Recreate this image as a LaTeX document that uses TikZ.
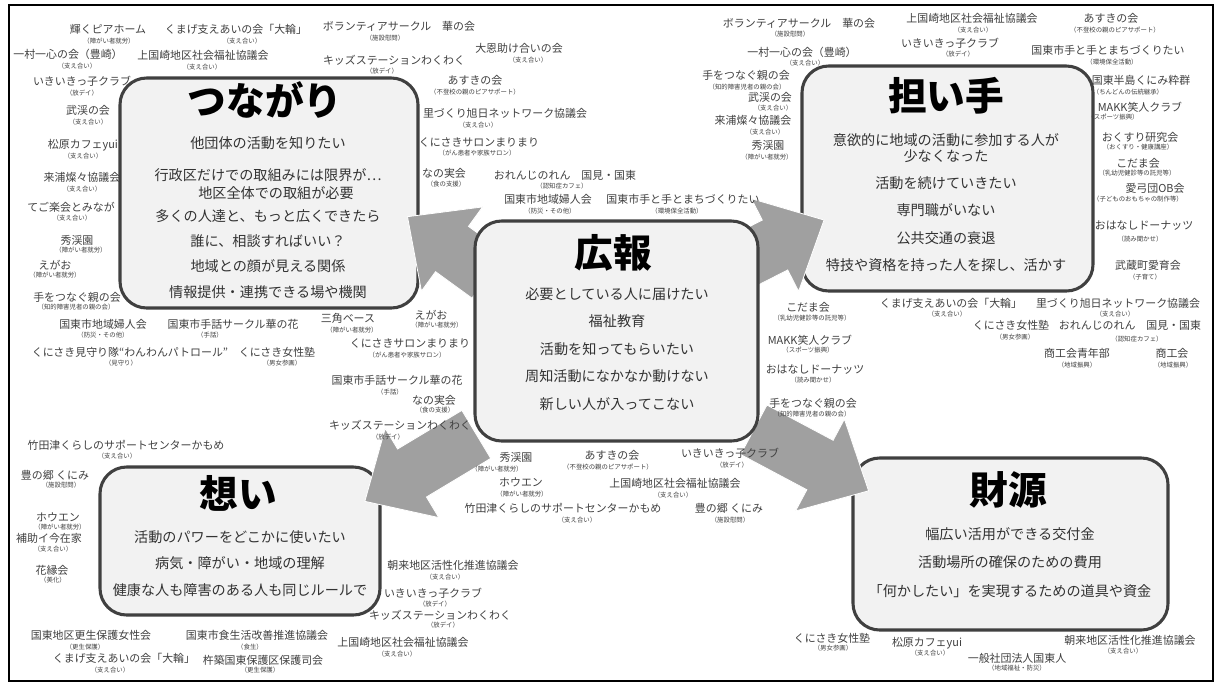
\documentclass[tikz,border=0pt]{standalone}
\usepackage{fontspec}
\setmainfont{Noto Sans CJK JP}
\usetikzlibrary{calc}
\definecolor{boxfill}{HTML}{F2F2F2}
\definecolor{boxline}{HTML}{404040}
\definecolor{arrowfill}{HTML}{A0A0A0}
\definecolor{labcol}{HTML}{404040}
\definecolor{txtcol}{HTML}{333333}
\tikzset{
  card/.style={draw=boxline, line width=2.3pt, fill=boxfill, rounded corners=20pt, inner sep=0},
  boxtitle/.style={font=\fontsize{29}{32}\selectfont\bfseries, text=black, inner sep=0},
  body/.style={font=\fontsize{10.6}{13}\selectfont, text=txtcol, inner sep=0},
  lab/.style={font=\fontsize{8.2}{9}\selectfont, text=labcol, inner sep=0},
  sublab/.style={font=\fontsize{4.8}{5.5}\selectfont, text=labcol, inner sep=0},
  blockarrow/.style={fill=arrowfill, draw=white, line width=0.6pt},
}
\newcommand\org[7]{%
  \node[lab] (#1) at (#2,#3) {#4};
  \node[sublab] (#1s) at (#5,#6) {#7};}
% block arrow: head base centre (#1,#2), direction #3 (degrees), shaft length #4
\newcommand\barrow[4]{%
  \begin{scope}[shift={(#1,#2)}, rotate=#3]
    \fill[blockarrow] (-#4,-28) -- (0,-28) -- (0,-52) -- (55,0) -- (0,52) -- (0,28) -- (-#4,28) -- cycle;
  \end{scope}}
\begin{document}
\begin{tikzpicture}[x=0.75pt,y=-0.75pt]
\useasboundingbox (0,0) rectangle (1219,686);
\fill[white] (0,0) rectangle (1219,686);
\draw[line width=1.3pt] (9,5) rectangle (1213,681);

% ---- boxes
\node[card, minimum width=223.5pt, minimum height=172.5pt] (tsun) at (269,193) {};
\node[card, minimum width=218.25pt, minimum height=168.75pt] (nina) at (947.5,178.5) {};
\node[card, minimum width=236.25pt, minimum height=129pt] (zaig) at (1010.5,544) {};
\node[card, minimum width=210pt, minimum height=111pt] (omoi) at (240,541) {};

% ---- arrows from the centre box to the four corner boxes
\barrow{452}{249}{144}{45}
\barrow{775}{245}{27}{45}
\barrow{412}{473}{211}{75}
\barrow{820}{465}{332}{75}

\node[card, minimum width=212.25pt, minimum height=165pt] (koho) at (616.5,331) {};

% ---- box texts
\node[boxtitle] (t1) at (265,100) {つながり};
\node[body] (t1a) at (268,143) {他団体の活動を知りたい};
\node[body] (t1b) at (268,175) {行政区だけでの取組みには限界が…};
\node[body] (t1c) at (276,193) {地区全体での取組が必要};
\node[body] (t1d) at (268,216) {多くの人達と、もっと広くできたら};
\node[body] (t1e) at (268,241) {誰に、相談すればいい？};
\node[body] (t1f) at (268,266) {地域との顔が見える関係};
\node[body] (t1g) at (268,292) {情報提供・連携できる場や機関};

\node[boxtitle] (t2) at (946,96) {担い手};
\node[body] (t2a) at (946,140) {意欲的に地域の活動に参加する人が};
\node[body] (t2b) at (946,156) {少なくなった};
\node[body] (t2c) at (946,183) {活動を続けていきたい};
\node[body] (t2d) at (946,210) {専門職がいない};
\node[body] (t2e) at (946,238) {公共交通の衰退};
\node[body] (t2f) at (946,265) {特技や資格を持った人を探し、活かす};

\node[boxtitle] (t3) at (613,253) {広報};
\node[body] (t3a) at (617,294) {必要としている人に届けたい};
\node[body] (t3b) at (617,321) {福祉教育};
\node[body] (t3c) at (617,349) {活動を知ってもらいたい};
\node[body] (t3d) at (617,376) {周知活動になかなか動けない};
\node[body] (t3e) at (617,404) {新しい人が入ってこない};

\node[boxtitle] (t4) at (238,493) {想い};
\node[body] (t4a) at (240,537) {活動のパワーをどこかに使いたい};
\node[body] (t4b) at (240,563) {病気・障がい・地域の理解};
\node[body] (t4c) at (240,590) {健康な人も障害のある人も同じルールで};

\node[boxtitle] (t5) at (1008,490) {財源};
\node[body] (t5a) at (1010,534) {幅広い活用ができる交付金};
\node[body] (t5b) at (1010,562) {活動場所の確保のための費用};
\node[body] (t5c) at (1010,591) {「何かしたい」を実現するための道具や資金};

% ---- labels: top left
\org{a1}{108}{29}{輝くピアホーム}{109}{41}{（障がい者就労）}
\org{a2}{236}{29}{くまげ支えあいの会「大輪」}{242}{41}{（支え合い）}
\org{a3}{399}{26}{ボランティアサークル　華の会}{385}{38}{（施設慰問）}
\org{a4}{68}{54}{一村一心の会（豊崎）}{77}{66}{（支え合い）}
\org{a5}{203}{55}{上国崎地区社会福祉協議会}{202}{67}{（支え合い）}
\org{a6}{394}{60}{キッズステーションわくわく}{382}{71}{（放デイ）}
\org{a7}{519}{48}{大恩助け合いの会}{528}{60}{（支え合い）}
\org{a8}{82}{81}{いきいきっ子クラブ}{82}{93}{（放デイ）}
\org{a9}{475}{80}{あすきの会}{475}{92}{（不登校の親のピアサポート）}
\org{a10}{88}{110}{武渓の会}{88}{122}{（支え合い）}
\org{a11}{505}{113}{里づくり旭日ネットワーク協議会}{478}{125}{（支え合い）}
\org{a12}{83}{145}{松原カフェyui}{83}{156}{（支え合い）}
\org{a13}{479}{142}{くにさきサロンまりまり}{477}{153}{（がん患者や家族サロン）}
\org{a14}{82}{177}{来浦燦々協議会}{82}{189}{（支え合い）}
\org{a15}{444}{173}{なの実会}{446}{184}{（食の支援）}
\org{a16}{71}{207}{てご楽会とみなが}{72}{218}{（支え合い）}
\org{a17}{565}{175}{おれんじのれん　国見・国東}{562}{186}{（認知症カフェ）}
\org{a18}{548}{199}{国東市地域婦人会}{550}{211}{（防災・その他）}
\org{a19}{683}{199}{国東市手と手とまちづくりたい}{677}{211}{（環境保全活動）}

% ---- labels: left
\org{b1}{77}{240}{秀渓園}{81}{250}{（障がい者就労）}
\org{b2}{55}{265}{えがお}{55}{275}{（障がい者就労）}
\org{b3}{77}{297}{手をつなぐ親の会}{76}{307}{（知的障害児者の親の会）}
\org{b4}{103}{324}{国東市地域婦人会}{103}{335}{（防災・その他）}
\org{b5}{233}{324}{国東市手話サークル華の花}{210}{335}{（手話）}
\org{b6}{130}{352}{くにさき見守り隊“わんわんパトロール”}{121}{363}{（見守り）}
\org{b7}{277}{352}{くにさき女性塾}{282}{363}{（男女参画）}
\org{b8}{348}{318}{三角ベース}{352}{330}{（障がい者就労）}
\org{b9}{431}{315}{えがお}{437}{325}{（障がい者就労）}
\org{b10}{410}{343}{くにさきサロンまりまり}{407}{355}{（がん患者や家族サロン）}
\org{b11}{397}{380}{国東市手話サークル華の花}{390}{392}{（手話）}
\org{b12}{434}{400}{なの実会}{435}{410}{（食の支援）}
\org{b13}{400}{425}{キッズステーションわくわく}{388}{437}{（放デイ）}
\org{b14}{126}{445}{竹田津くらしのサポートセンターかもめ}{117}{456}{（支え合い）}

% ---- labels: bottom centre
\org{c1}{516}{457}{秀渓園}{497}{469}{（障がい者就労）}
\org{c2}{612}{455}{あすきの会}{608}{467}{（不登校の親のピアサポート）}
\org{c3}{730}{453}{いきいきっ子クラブ}{732}{465}{（放デイ）}
\org{c4}{521}{482}{ホウエン}{522}{494}{（障がい者就労）}
\org{c5}{675}{483}{上国崎地区社会福祉協議会}{673}{495}{（支え合い）}
\org{c6}{563}{508}{竹田津くらしのサポートセンターかもめ}{577}{520}{（支え合い）}
\org{c7}{729}{508}{豊の郷 くにみ}{730}{520}{（施設慰問）}
\org{c8}{453}{565}{朝来地区活性化推進協議会}{445}{577}{（支え合い）}
\org{c9}{433}{593}{いきいきっ子クラブ}{435}{604}{（放デイ）}
\org{c10}{440}{615}{キッズステーションわくわく}{443}{625}{（放デイ）}
\org{c11}{403}{642}{上国崎地区社会福祉協議会}{397}{654}{（支え合い）}

% ---- labels: bottom left
\org{d1}{55}{475}{豊の郷 くにみ}{61}{485}{（施設慰問）}
\org{d2}{58}{517}{ホウエン}{60}{527}{（障がい者就労）}
\org{d3}{49}{538}{補助イ今在家}{53}{549}{（支え合い）}
\org{d4}{52}{570}{花縁会}{53}{580}{（美化）}
\org{d5}{91}{635}{国東地区更生保護女性会}{85}{647}{（更生保護）}
\org{d6}{124}{658}{くまげ支えあいの会「大輪」}{110}{670}{（支え合い）}
\org{d7}{257}{635}{国東市食生活改善推進協議会}{250}{647}{（食生）}
\org{d8}{263}{660}{杵築国東保護区保護司会}{260}{670}{（更生保護）}

% ---- labels: top right
\org{e1}{799}{23}{ボランティアサークル　華の会}{790}{34}{（施設慰問）}
\org{e2}{972}{18}{上国崎地区社会福祉協議会}{973}{30}{（支え合い）}
\org{e3}{1111}{18}{あすきの会}{1115}{30}{（不登校の親のピアサポート）}
\org{e4}{802}{52}{一村一心の会（豊崎）}{805}{63}{（支え合い）}
\org{e5}{950}{43}{いきいきっ子クラブ}{958}{54}{（放デイ）}
\org{e6}{1108}{50}{国東市手と手とまちづくりたい}{1112}{62}{（環境保全活動）}
\org{e7}{746}{75}{手をつなぐ親の会}{747}{87}{（知的障害児者の親の会）}
\org{e8}{770}{97}{武渓の会}{773}{108}{（支え合い）}
\org{e9}{753}{120}{来浦燦々協議会}{765}{132}{（支え合い）}
\org{e10}{768}{145}{秀渓園}{767}{157}{（障がい者就労）}
\org{e11}{1141}{80}{国東半島くにみ粋群}{1128}{92}{（ちんどんの伝統継承）}
\org{e12}{1140}{107}{MAKK笑人クラブ}{1113}{117}{（スポーツ振興）}
\org{e13}{1140}{137}{おくすり研究会}{1138}{147}{（おくすり・健康講座）}
\org{e14}{1138}{163}{こだま会}{1137}{173}{（乳幼児健診等の託児等）}
\org{e15}{1155}{188}{愛弓団OB会}{1138}{199}{（子どものおもちゃの制作等）}
\org{e16}{1144}{226}{おはなしドーナッツ}{1140}{239}{（読み聞かせ）}
\org{e17}{1148}{265}{武蔵町愛育会}{1145}{277}{（子育て）}
\org{e18}{951}{303}{くまげ支えあいの会「大輪」}{947}{314}{（支え合い）}
\org{e19}{1118}{303}{里づくり旭日ネットワーク協議会}{1115}{314}{（支え合い）}
\org{e20}{1011}{325}{くにさき女性塾}{1015}{337}{（男女参画）}
\org{e21}{1130}{325}{おれんじのれん　国見・国東}{1137}{339}{（認知症カフェ）}
\org{e22}{1077}{353}{商工会青年部}{1077}{365}{（地域振興）}
\org{e23}{1172}{353}{商工会}{1173}{365}{（地域振興）}

% ---- labels: centre right
\org{f1}{808}{307}{こだま会}{812}{318}{（乳幼児健診等の託児等）}
\org{f2}{810}{340}{MAKK笑人クラブ}{808}{350}{（スポーツ振興）}
\org{f3}{815}{370}{おはなしドーナッツ}{813}{380}{（読み聞かせ）}
\org{f4}{813}{403}{手をつなぐ親の会}{812}{414}{（知的障害児者の親の会）}

% ---- labels: bottom right
\org{g1}{832}{638}{くにさき女性塾}{833}{648}{（男女参画）}
\org{g2}{927}{643}{松原カフェyui}{930}{653}{（支え合い）}
\org{g3}{1017}{658}{一般社団法人国東人}{1017}{668}{（地域福祉・防災）}
\org{g4}{1130}{640}{朝来地区活性化推進協議会}{1123}{651}{（支え合い）}
\end{tikzpicture}
\end{document}
